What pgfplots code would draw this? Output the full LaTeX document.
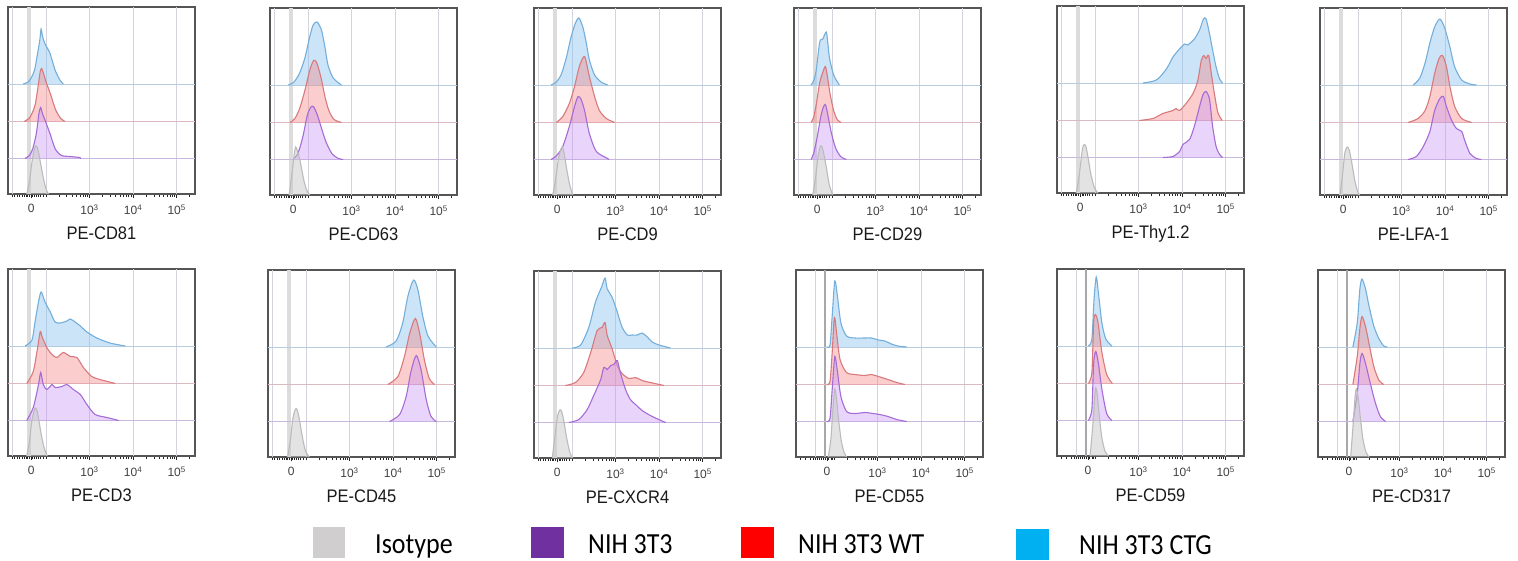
\documentclass[border=0pt]{standalone}
\usepackage{fontspec}
\setmainfont{Liberation Sans}
\newfontfamily\legfont{Carlito}
\usepackage{graphicx}
\usepackage{pgfplots}
\pgfplotsset{compat=1.18}
\definecolor{lineB}{HTML}{74AEDA}
\definecolor{fillB}{HTML}{8CC3F0}
\definecolor{lineR}{HTML}{D8797D}
\definecolor{fillR}{HTML}{F58282}
\definecolor{lineP}{HTML}{A46CD4}
\definecolor{fillP}{HTML}{C690F5}
\definecolor{lineG}{HTML}{BBBBBB}
\definecolor{fillG}{HTML}{C8C8C8}
\definecolor{laneB}{HTML}{B8CEE0}
\definecolor{laneR}{HTML}{DDBAC2}
\definecolor{laneP}{HTML}{C8B8DE}
\definecolor{gridc}{HTML}{D4D4DC}
\definecolor{bandc}{HTML}{DCDCDC}
\definecolor{bandd}{HTML}{A8A8A8}
\definecolor{framec}{HTML}{555555}
\definecolor{legG}{HTML}{D0CECE}
\definecolor{legP}{HTML}{7030A0}
\definecolor{legR}{HTML}{FF0000}
\definecolor{legB}{HTML}{00B0F0}

\pgfplotsset{
 flow/.style={scale only axis, width=187pt, height=187pt,
   xmin=1.13, xmax=5.42, ymin=0, ymax=187, anchor=south west,
   axis line style={draw=framec, line width=1.1pt},
   ytick=\empty, tick align=outside, xtick pos=left,
   major tick length=4pt, minor tick length=2.5pt,
   tick style={draw=black!85, line width=0.7pt},
   xticklabel style={font=\fontsize{12}{13}\selectfont, text=black!75, yshift=-3pt},
   xlabel style={font=\fontsize{16.5}{20}\selectfont, text=black!90,
     at={(axis description cs:0.5,0)}, anchor=base, yshift=-45pt}},
 flowS/.style={flow, xtick={1.66,3,4,5},
   xticklabels={0,10\textsuperscript{3},10\textsuperscript{4},10\textsuperscript{5}},
   minor xtick={1.22,1.28,1.34,1.40,1.45,1.50,1.54,1.58,1.62,1.70,1.74,1.78,1.83,1.88,1.93,2.0,2.30,2.48,2.60,2.70,2.78,2.85,2.90,2.95,3.30,3.48,3.60,3.70,3.78,3.85,3.90,3.95,4.30,4.48,4.60,4.70,4.78,4.85,4.90,4.95,5.30}},
 flowA/.style={flow, xtick={1.84,3,4,5},
   xticklabels={0,10\textsuperscript{3},10\textsuperscript{4},10\textsuperscript{5}},
   minor xtick={1.22,1.35,1.45,1.52,1.57,1.62,1.67,1.72,1.76,1.80,1.88,1.93,1.97,2.0,2.30,2.48,2.60,2.70,2.78,2.85,2.90,2.95,3.30,3.48,3.60,3.70,3.78,3.85,3.90,3.95,4.30,4.48,4.60,4.70,4.78,4.85,4.90,4.95,5.30}},
 hB/.style={draw=lineB, line width=1.1pt, fill=fillB, fill opacity=0.45, smooth, tension=0.45, y filter/.expression={y+110}},
 hR/.style={draw=lineR, line width=1.1pt, fill=fillR, fill opacity=0.4, smooth, tension=0.45, y filter/.expression={y+72.5}},
 hP/.style={draw=lineP, line width=1.1pt, fill=fillP, fill opacity=0.38, smooth, tension=0.45, y filter/.expression={y+35.5}},
 hG/.style={draw=lineG, line width=1.1pt, fill=fillG, fill opacity=0.5, smooth, tension=0.45},
}

\newcommand{\lanes}{%
 \draw[laneB, line width=0.9pt] (axis cs:1.13,110) -- (axis cs:5.42,110);
 \draw[laneR, line width=0.9pt] (axis cs:1.13,72.5) -- (axis cs:5.42,72.5);
 \draw[laneP, line width=0.9pt] (axis cs:1.13,35.5) -- (axis cs:5.42,35.5);}
\newcommand{\gridS}{%
 \fill[bandc] (axis cs:1.57,0) rectangle (axis cs:1.66,187);
 \draw[gridc, line width=0.8pt] (axis cs:1.22,0) -- (axis cs:1.22,187);
 \draw[gridc, line width=0.8pt] (axis cs:2,0) -- (axis cs:2,187);
 \draw[gridc, line width=0.8pt] (axis cs:3,0) -- (axis cs:3,187);
 \draw[gridc, line width=0.8pt] (axis cs:4,0) -- (axis cs:4,187);
 \draw[gridc, line width=0.8pt] (axis cs:5,0) -- (axis cs:5,187);
 \lanes}
\newcommand{\gridA}{%
 \draw[gridc, line width=0.8pt] (axis cs:1.57,0) -- (axis cs:1.57,187);
 \fill[bandd] (axis cs:1.77,0) rectangle (axis cs:1.81,187);
 \draw[gridc, line width=0.8pt] (axis cs:3,0) -- (axis cs:3,187);
 \draw[gridc, line width=0.8pt] (axis cs:4,0) -- (axis cs:4,187);
 \draw[gridc, line width=0.8pt] (axis cs:5,0) -- (axis cs:5,187);
 \lanes}

% #1 left, #2 bottom (px from top), #3 label, #4 S/A, #5 blue, #6 red, #7 purple, #8 isotype
\newcommand{\panel}[8]{%
\begin{axis}[flow#4, at={(#1pt,-#2pt)}, xlabel={\scalebox{1}[1.1]{#3}}]
\csname grid#4\endcsname
\addplot[hB] coordinates {#5};
\addplot[hR] coordinates {#6};
\addplot[hP] coordinates {#7};
\addplot[hG] coordinates {#8};
\end{axis}}
\newcommand{\legtext}[1]{\scalebox{1}[1.12]{\legfont\fontsize{26}{30}\selectfont #1}}

\begin{document}
\begin{tikzpicture}
% ---------- row 1 ----------
\panel{8}{194}{PE-CD81}{S}
{(1.48,0)(1.59,2)(1.66,6)(1.74,14)(1.81,31)(1.86,44)(1.89,55)(1.92,48)(1.98,40)(2.09,31)(2.21,14)(2.32,4)(2.40,0)}
{(1.50,0)(1.61,3)(1.68,8)(1.76,18)(1.83,38)(1.87,50)(1.90,53)(1.93,50)(2.00,40)(2.10,28)(2.22,12)(2.34,3)(2.44,0)}
{(1.52,0)(1.62,3)(1.70,10)(1.78,25)(1.84,45)(1.88,51)(1.92,45)(2.00,36)(2.10,24)(2.22,9)(2.36,3)(2.55,2)(2.78,1)(2.80,0)}
{(1.56,0)(1.62,12)(1.68,32)(1.74,46)(1.78,48)(1.82,44)(1.88,30)(1.95,14)(2.01,4)(2.06,0)}
\panel{270}{195}{PE-CD63}{S}
{(1.55,0)(1.68,3)(1.81,12)(1.93,27)(2.04,48)(2.12,60)(2.21,63)(2.31,55)(2.39,38)(2.46,20)(2.58,7)(2.77,0)}
{(1.59,0)(1.70,4)(1.81,14)(1.93,32)(2.04,52)(2.13,62)(2.20,60)(2.30,45)(2.39,26)(2.48,12)(2.60,3)(2.77,0)}
{(1.66,0)(1.77,6)(1.88,22)(1.99,45)(2.08,53)(2.14,52)(2.22,44)(2.32,30)(2.42,17)(2.55,6)(2.70,1)(2.81,0)}
{(1.57,0)(1.63,20)(1.69,42)(1.72,48)(1.76,44)(1.82,34)(1.90,16)(1.97,5)(2.04,0)}
\panel{534}{195}{PE-CD9}{S}
{(1.52,0)(1.64,3)(1.75,10)(1.87,27)(1.98,48)(2.08,62)(2.16,67)(2.25,58)(2.33,42)(2.40,25)(2.52,10)(2.67,3)(2.82,0)}
{(1.64,0)(1.79,6)(1.94,19)(2.06,36)(2.17,56)(2.29,66)(2.40,46)(2.52,26)(2.63,12)(2.79,4)(2.98,0)}
{(1.52,0)(1.65,4)(1.79,13)(1.94,33)(2.06,53)(2.14,63)(2.21,60)(2.29,49)(2.40,26)(2.56,8)(2.82,1)(2.84,0)}
{(1.56,0)(1.62,14)(1.69,36)(1.75,46)(1.78,48)(1.82,42)(1.88,26)(1.95,10)(2.02,0)}
\panel{794}{195}{PE-CD29}{S}
{(1.52,0)(1.58,4)(1.64,15)(1.72,43)(1.79,46)(1.87,53)(1.91,40)(1.94,28)(2.00,16)(2.06,8)(2.17,0)}
{(1.52,0)(1.58,5)(1.64,18)(1.72,40)(1.79,50)(1.85,56)(1.90,45)(1.96,28)(2.04,12)(2.12,3)(2.21,0)}
{(1.52,0)(1.58,6)(1.66,22)(1.74,42)(1.80,52)(1.85,55)(1.90,46)(1.98,28)(2.08,12)(2.20,3)(2.33,0)}
{(1.56,0)(1.62,16)(1.68,38)(1.73,48)(1.76,49)(1.80,44)(1.87,28)(1.94,10)(2.02,0)}
\panel{1057}{193}{PE-Thy1.2}{S}
{(3.10,0)(3.41,3)(3.64,14)(3.79,26)(3.94,34)(4.06,39)(4.13,38)(4.28,44)(4.40,53)(4.49,64)(4.55,64)(4.63,49)(4.70,33)(4.78,16)(4.86,4)(4.93,0)}
{(3.02,0)(3.33,2)(3.56,7)(3.79,10)(3.86,12)(3.94,10)(4.09,17)(4.25,27)(4.36,40)(4.44,60)(4.50,65)(4.55,62)(4.61,65)(4.67,47)(4.74,27)(4.82,8)(4.92,0)}
{(3.56,0)(3.79,1)(3.94,6)(4.02,13)(4.17,18)(4.28,31)(4.40,51)(4.48,63)(4.55,66)(4.63,58)(4.70,31)(4.78,11)(4.86,3)(4.93,0)}
{(1.57,0)(1.64,18)(1.70,40)(1.74,48)(1.79,47)(1.84,36)(1.91,18)(1.99,5)(2.07,0)}
\panel{1320}{195}{PE-LFA-1}{S}
{(3.27,0)(3.42,7)(3.54,22)(3.65,42)(3.76,58)(3.88,66)(3.99,57)(4.11,38)(4.22,18)(4.38,5)(4.57,1)(4.72,0)}
{(3.15,0)(3.38,4)(3.54,12)(3.65,26)(3.76,49)(3.86,64)(3.94,67)(4.03,56)(4.11,36)(4.22,16)(4.38,4)(4.61,0)}
{(3.15,0)(3.34,3)(3.50,13)(3.65,28)(3.76,49)(3.88,61)(3.96,63)(4.03,53)(4.15,39)(4.26,31)(4.38,28)(4.45,19)(4.57,6)(4.72,1)(4.83,0)}
{(1.59,0)(1.65,22)(1.70,42)(1.75,48)(1.80,45)(1.86,32)(1.93,14)(1.99,4)(2.04,0)}
% ---------- row 2 ----------
\panel{8}{456}{PE-CD3}{S}
{(1.52,0)(1.68,6)(1.75,24)(1.83,44)(1.89,54)(1.98,44)(2.10,34)(2.21,24)(2.33,23)(2.48,25)(2.56,27)(2.67,24)(2.79,20)(2.94,14)(3.17,8)(3.47,3)(3.82,0)}
{(1.56,0)(1.71,12)(1.81,36)(1.87,52)(1.91,47)(2.02,36)(2.14,29)(2.25,26)(2.40,31)(2.56,27)(2.71,26)(2.86,16)(3.05,7)(3.24,4)(3.59,0)}
{(1.56,0)(1.71,13)(1.83,36)(1.88,48)(1.94,36)(2.02,31)(2.14,36)(2.21,33)(2.37,34)(2.48,36)(2.63,31)(2.79,26)(2.94,16)(3.13,6)(3.40,3)(3.67,0)}
{(1.56,0)(1.62,14)(1.68,36)(1.75,48)(1.79,46)(1.83,38)(1.89,22)(1.96,8)(2.03,0)}
\panel{268}{457}{PE-CD45}{S}
{(3.84,0)(4.07,6)(4.22,24)(4.34,51)(4.47,67)(4.57,57)(4.68,31)(4.80,11)(4.99,0)}
{(3.88,0)(4.11,8)(4.26,28)(4.38,51)(4.51,66)(4.61,51)(4.72,24)(4.83,6)(4.95,0)}
{(3.92,0)(4.15,7)(4.30,25)(4.41,50)(4.53,66)(4.64,52)(4.76,22)(4.87,5)(4.99,0)}
{(1.58,0)(1.64,16)(1.70,38)(1.75,47)(1.79,48)(1.84,40)(1.91,22)(1.99,6)(2.08,0)}
\panel{534}{458}{PE-CXCR4}{S}
{(2.01,0)(2.20,3)(2.39,21)(2.54,46)(2.68,61)(2.76,70)(2.81,59)(2.92,51)(3.04,36)(3.15,21)(3.27,13)(3.38,13)(3.50,13)(3.61,15)(3.73,11)(3.84,6)(4.00,3)(4.26,0)}
{(1.85,0)(2.08,3)(2.27,13)(2.43,33)(2.58,55)(2.69,58)(2.76,63)(2.81,50)(2.92,37)(3.04,20)(3.15,12)(3.31,7)(3.46,8)(3.61,5)(3.80,3)(4.11,0)}
{(1.93,0)(2.16,3)(2.35,13)(2.50,27)(2.66,43)(2.73,55)(2.81,53)(2.89,57)(2.96,58)(3.04,62)(3.11,50)(3.23,33)(3.34,23)(3.46,18)(3.61,12)(3.80,7)(3.99,3)(4.15,0)}
{(1.55,0)(1.61,22)(1.67,42)(1.72,48)(1.76,47)(1.81,38)(1.88,20)(1.95,6)(2.01,0)}
\panel{796}{457}{PE-CD55}{A}
{(1.83,0)(1.91,2)(1.96,31)(2.02,66)(2.08,51)(2.16,24)(2.29,11)(2.48,9)(2.71,9)(2.86,9)(3.02,7)(3.17,6)(3.32,3)(3.47,1)(3.67,0)}
{(1.83,0)(1.91,3)(1.96,32)(2.01,67)(2.06,52)(2.14,25)(2.29,12)(2.48,10)(2.71,9)(2.86,10)(3.02,8)(3.24,5)(3.44,2)(3.63,0)}
{(1.83,0)(1.91,3)(1.96,32)(2.02,65)(2.08,50)(2.16,25)(2.29,10)(2.48,8)(2.71,9)(2.90,8)(3.05,7)(3.24,5)(3.44,2)(3.67,0)}
{(1.87,0)(1.93,18)(1.98,50)(2.02,68)(2.06,58)(2.11,36)(2.17,16)(2.23,5)(2.29,0)}
\panel{1057}{456}{PE-CD59}{A}
{(1.85,0)(1.93,7)(1.98,47)(2.03,69)(2.08,53)(2.16,23)(2.25,7)(2.39,0)}
{(1.85,0)(1.93,11)(1.97,61)(2.01,69)(2.07,61)(2.16,31)(2.27,9)(2.40,0)}
{(1.85,0)(1.93,11)(1.97,57)(2.02,69)(2.08,57)(2.16,31)(2.27,7)(2.39,0)}
{(1.89,0)(1.95,30)(2.00,62)(2.02,68)(2.05,62)(2.10,40)(2.16,18)(2.23,5)(2.31,0)}
\panel{1318}{457}{PE-CD317}{A}
{(1.93,0)(2.03,24)(2.09,58)(2.14,68)(2.22,58)(2.30,41)(2.41,21)(2.53,8)(2.64,1)(2.72,0)}
{(1.93,0)(2.03,28)(2.09,56)(2.14,68)(2.22,58)(2.30,41)(2.41,18)(2.53,4)(2.64,0)}
{(1.93,0)(2.03,28)(2.09,58)(2.14,68)(2.22,58)(2.33,38)(2.45,18)(2.56,5)(2.68,0)}
{(1.88,0)(1.94,35)(1.98,60)(2.01,68)(2.05,60)(2.10,40)(2.16,18)(2.23,5)(2.30,0)}
% ---------- legend ----------
\fill[legG] (313pt,-527pt) rectangle (345pt,-558pt);
\node[anchor=base west, inner sep=0pt] at (375pt,-553pt) {\legtext{Isotype}};
\fill[legP] (531pt,-527pt) rectangle (564pt,-558pt);
\node[anchor=base west, inner sep=0pt] at (588pt,-553pt) {\legtext{NIH 3T3}};
\fill[legR] (741pt,-527pt) rectangle (774pt,-558pt);
\node[anchor=base west, inner sep=0pt] at (798pt,-553pt) {\legtext{NIH 3T3 WT}};
\fill[legB] (1016pt,-529pt) rectangle (1049pt,-560pt);
\node[anchor=base west, inner sep=0pt] at (1079pt,-554pt) {\legtext{NIH 3T3 CTG}};
\pgfresetboundingbox
\useasboundingbox (0pt,0pt) rectangle (1518pt,-560pt);
\end{tikzpicture}
\end{document}
